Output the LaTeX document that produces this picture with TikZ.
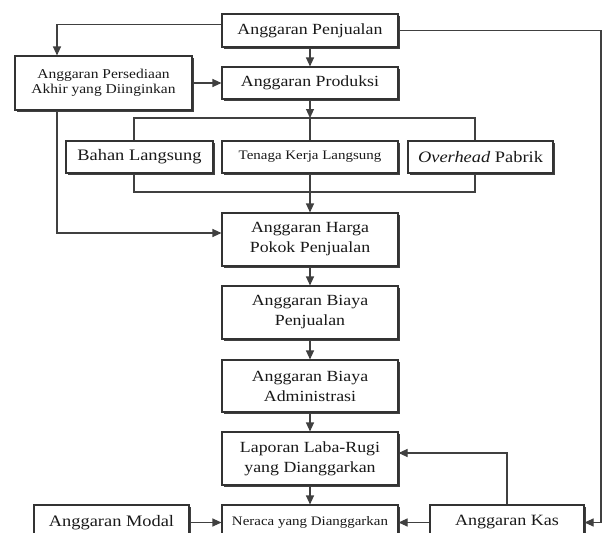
\documentclass[tikz,border=0pt]{standalone}
\usepackage{fontspec}
\setmainfont{Liberation Serif}[FakeStretch=1.15]
\usetikzlibrary{arrows.meta,shadows}
\newcommand\fmain{\fontsize{15.5}{20}\selectfont}
\newcommand\fsmall{\fontsize{13.5}{15}\selectfont}
\newcommand\fnera{\fontsize{13}{15}\selectfont}
\tikzset{
  box/.style={draw=black!80, line width=1.1pt, fill=white, inner sep=0pt,
    align=center, text=black!90,
    drop shadow={shadow xshift=2pt, shadow yshift=-2pt, fill=black!75, opacity=1}},
  conn/.style={draw=black!75, line width=1.1pt},
  arr/.style={conn, -{Triangle[length=9pt,width=8pt]}}
}
\begin{document}
\begin{tikzpicture}[x=1pt,y=-1pt]
\useasboundingbox (0,0) rectangle (606,533);
\clip (0,0) rectangle (606,533);
% boxes
\node[box, minimum width=176pt, minimum height=33pt, font=\fmain] (pen) at (310,30.5) {Anggaran Penjualan};
\node[box, minimum width=177pt, minimum height=54pt, font=\fsmall] (per) at (103.5,83) {Anggaran Persediaan\\Akhir yang Diinginkan};
\node[box, minimum width=176pt, minimum height=32pt, font=\fmain] (pro) at (310,83) {Anggaran Produksi};
\node[box, minimum width=147pt, minimum height=32pt, font=\fontsize{16}{18}\selectfont] (bhn) at (139.5,157) {Bahan Langsung};
\node[box, minimum width=176pt, minimum height=32pt, font=\fnera] (tng) at (310,157) {Tenaga Kerja Langsung};
\node[box, minimum width=145pt, minimum height=32pt, font=\fontsize{16}{18}\selectfont] (ovh) at (480.5,157) {\textit{Overhead} Pabrik};
\node[box, minimum width=176pt, minimum height=53pt, font=\fmain] (hpp) at (310,239.5) {Anggaran Harga\\Pokok Penjualan};
\node[box, minimum width=176pt, minimum height=53pt, font=\fmain] (bpj) at (310,312.5) {Anggaran Biaya\\Penjualan};
\node[box, minimum width=176pt, minimum height=52pt, font=\fmain] (adm) at (310,386) {Anggaran Biaya\\Administrasi};
\node[box, minimum width=176pt, minimum height=53pt, font=\fmain] (lrg) at (310,458.5) {Laporan Laba-Rugi\\yang Dianggarkan};
\node[box, minimum width=176pt, minimum height=35pt, font=\fnera] (ner) at (310,522.5) {Neraca yang Dianggarkan};
\node[box, minimum width=155pt, minimum height=35pt, font=\fontsize{16}{18}\selectfont] (mod) at (111.5,522.5) {Anggaran Modal};
\node[box, minimum width=154pt, minimum height=35pt, font=\fontsize{15.7}{18}\selectfont] (kas) at (507,522.5) {Anggaran Kas};
% coordinates
\coordinate (rt) at (601,30.5);
\coordinate (bt) at (310,118);
\coordinate (bl) at (134,118);
\coordinate (br) at (475,118);
\coordinate (cb) at (310,192);
\coordinate (cl) at (134,192);
\coordinate (cr) at (475,192);
% connectors
\draw[arr] ([yshift=6pt]pen.west) -| ([xshift=-46.5pt]per.north);
\draw[arr] (pen.east) -- (rt) |- (kas.east);
\draw[arr] (pen.south) -- (pro.north);
\draw[arr] (per.east) -- (pro.west);
\draw[arr] (pro.south) -- (bt);
\draw[conn] (bt) -- (tng.north);
\draw[conn] (bhn.north -| bl) -- (bl) -- (br) -- (ovh.north -| br);
\draw[conn] (bhn.south -| cl) -- (cl) -- (cr) -- (ovh.south -| cr);
\draw[conn] (tng.south) -- (cb);
\draw[arr] (cb) -- (hpp.north);
\draw[arr] ([xshift=-46.5pt]per.south) |- ([yshift=6.5pt]hpp.west);
\draw[arr] (hpp.south) -- (bpj.north);
\draw[arr] (bpj.south) -- (adm.north);
\draw[arr] (adm.south) -- (lrg.north);
\draw[arr] (lrg.south) -- (ner.north);
\draw[arr] (mod.east) -- (ner.west);
\draw[arr] (kas.west) -- (ner.east);
\draw[arr] (kas.north) |- ([yshift=5.5pt]lrg.east);
\end{tikzpicture}
\end{document}
